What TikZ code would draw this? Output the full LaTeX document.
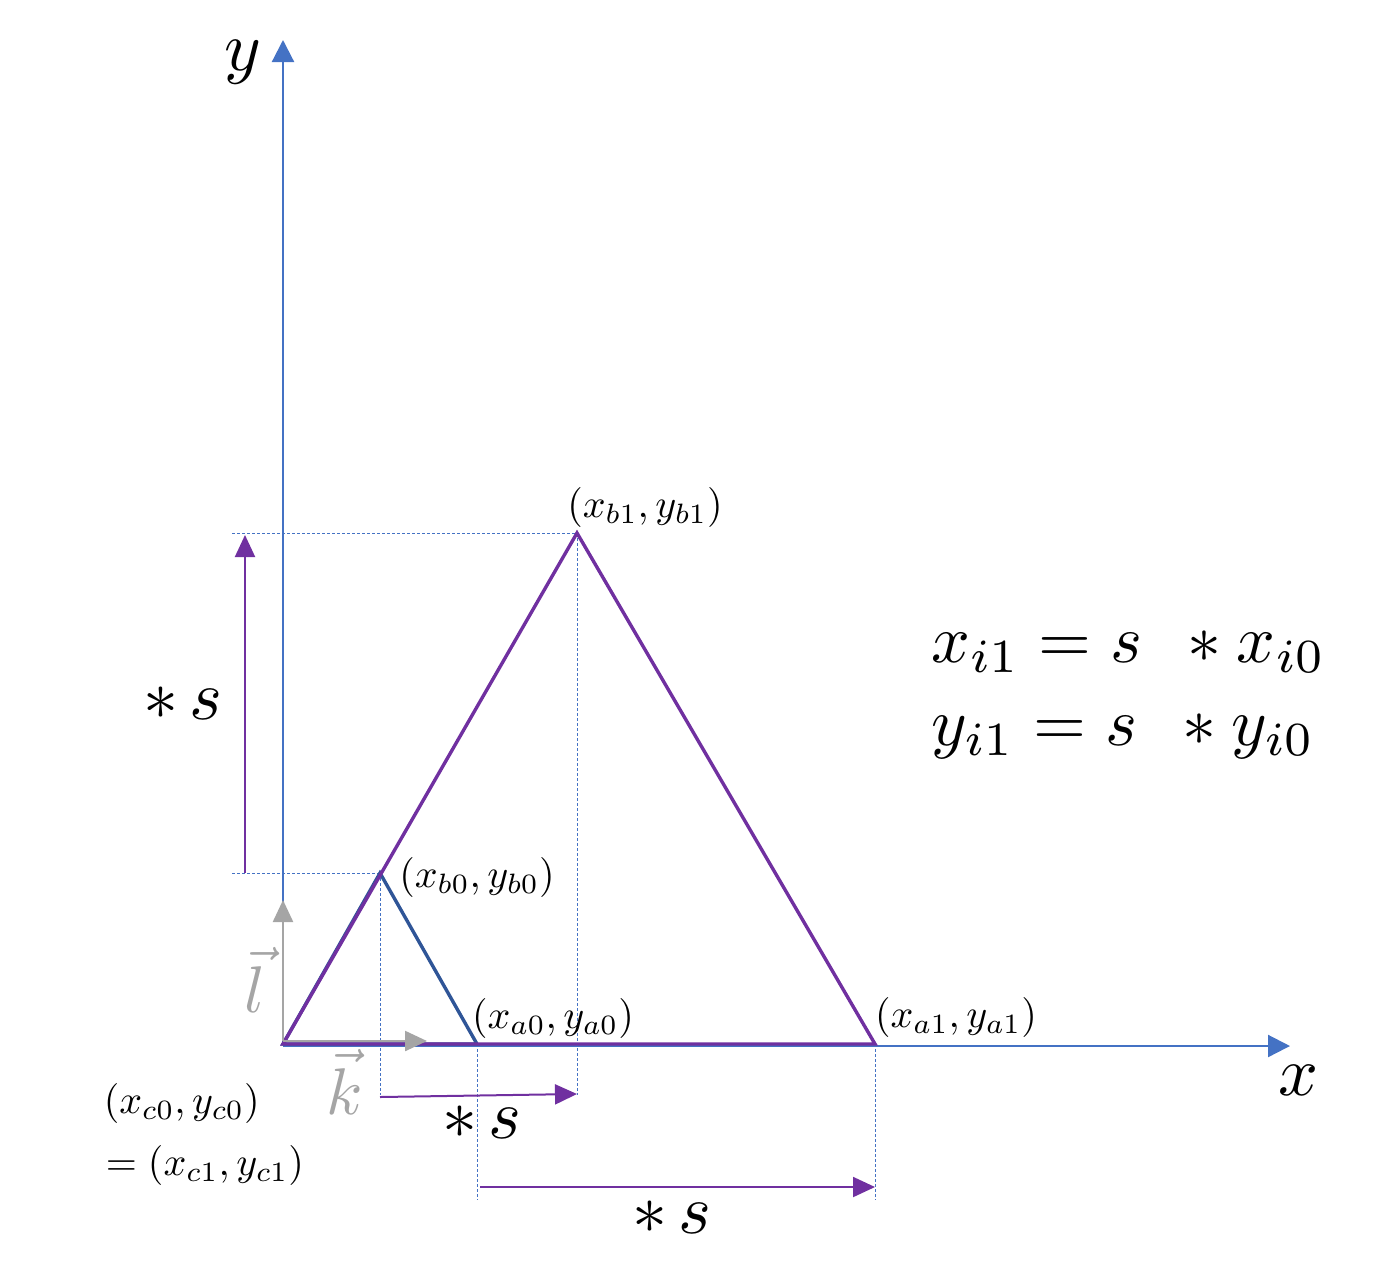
\documentclass[tikz,border=0pt]{standalone}
\usetikzlibrary{arrows.meta}
\definecolor{axisblue}{HTML}{4472C4}
\definecolor{tripurple}{HTML}{7030A0}
\definecolor{triblue}{HTML}{2F5597}
\definecolor{vecgray}{HTML}{A5A5A5}
\tikzset{
 axisline/.style={axisblue, line width=2.2pt, -{Triangle[length=22pt,width=22pt]}},
 guide/.style={axisblue, line width=1pt, dash pattern=on 3pt off 2pt},
 bigtri/.style={tripurple, line width=3.4pt, line join=miter},
 smalltri/.style={triblue, line width=3.4pt},
 scalearrow/.style={tripurple, line width=2pt, -{Triangle[length=22pt,width=20pt]}},
 vecarrow/.style={vecgray, line width=2.4pt, -{Triangle[length=22pt,width=20pt]}},
 lbl/.style={scale=4, inner sep=0pt},
 big/.style={scale=7, inner sep=0pt},
 formula/.style={scale=6.8, inner sep=0pt},
 veclbl/.style={scale=6.6, inner sep=0pt, text=vecgray},
}
\begin{document}
\begin{tikzpicture}[x=1pt,y=-1pt]
\useasboundingbox (0,0) rectangle (1383,1262);
% points
\coordinate (O) at (283,1044);
\coordinate (Yend) at (283,40);
\coordinate (Xend) at (1290,1046);
\coordinate (Xstart) at (283,1046);
\coordinate (B1) at (577,533);
\coordinate (A1) at (875,1044);
\coordinate (B0) at (380,873);
\coordinate (A0) at (477,1044);
% guide endpoints
\coordinate (gB1l) at (232,533);
\coordinate (gB0l) at (232,873);
\coordinate (gB0d) at (380,1095);
\coordinate (gB1d) at (577,1095);
\coordinate (gA0d) at (477,1200);
\coordinate (gA1d) at (875,1200);
% guides
\draw[guide] (gB1l) -- (B1);
\draw[guide] (gB0l) -- (B0);
\draw[guide] (B0) -- (gB0d);
\draw[guide] (B1) -- (gB1d);
\draw[guide] (A0) -- (gA0d);
\draw[guide] (A1) -- (gA1d);
% axes
\draw[axisline] (O) -- (Yend);
\draw[axisline] (Xstart) -- (Xend);
% triangles
\draw[smalltri] (O) -- (B0) -- (A0) -- cycle;
\draw[bigtri] (O) -- (B1) -- (A1) -- cycle;
% unit vectors
\coordinate (Vo) at (283,1041);
\coordinate (Ltip) at (283,900);
\coordinate (Ktip) at (427,1041);
\draw[vecarrow] (Vo) -- (Ltip);
\draw[vecarrow] (Vo) -- (Ktip);
% scale arrows
\coordinate (s1a) at (245,873);
\coordinate (s1b) at (245,535);
\coordinate (s2a) at (380,1097);
\coordinate (s2b) at (577,1094);
\coordinate (s3a) at (480,1187);
\coordinate (s3b) at (875,1187);
\draw[scalearrow] (s1a) -- (s1b);
\draw[scalearrow] (s2a) -- (s2b);
\draw[scalearrow] (s3a) -- (s3b);
% labels
\node[big] (ylab) at (243,62) {$y$};
\node[big] (xlab) at (1298,1080) {$x$};
\node[veclbl] (llab) at (255,980) {$\vec{l}$};
\node[veclbl] (klab) at (345,1082) {$\vec{k}$};
\node[lbl] (lb1) at (645,507) {$(x_{b1},y_{b1})$};
\node[lbl] (lb0) at (477,877) {$(x_{b0},y_{b0})$};
\node[lbl] (la0) at (553,1018) {$(x_{a0},y_{a0})$};
\node[lbl] (la1) at (956,1017) {$(x_{a1},y_{a1})$};
\node[lbl, anchor=west] (lc0) at (103,1103) {$(x_{c0},y_{c0})$};
\node[lbl, anchor=west] (lc1) at (105,1165) {$=(x_{c1},y_{c1})$};
\node[big] (sv) at (183,703) {$*\,s$};
\node[big] (sm) at (482,1122) {$*\,s$};
\node[big] (sb) at (672,1217) {$*\,s$};
\node[formula, anchor=base west] (fx) at (930,662) {$x_{i1} = s\;\, * x_{i0}$};
\node[formula, anchor=base west] (fy) at (930,745) {$y_{i1} = s\;\, * y_{i0}$};
\end{tikzpicture}
\end{document}
